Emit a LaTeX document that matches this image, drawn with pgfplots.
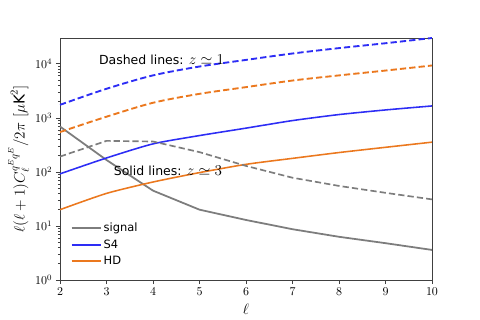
\RequirePackage{fix-cm}
\documentclass[border=0pt]{standalone}
\usepackage[no-math]{fontspec}
\setmainfont{DejaVu Sans}
\usepackage{amsmath}
\usepackage{pgfplots}
\pgfplotsset{compat=1.18}

\definecolor{cblue}{RGB}{45,45,245}
\definecolor{corange}{RGB}{235,120,30}
\definecolor{cgray}{RGB}{125,125,125}

\begin{document}
\begin{tikzpicture}
\begin{axis}[
  at={(0,0)}, anchor=south west,
  scale only axis,
  width=357.12pt, height=232.32pt,
  ymode=log,
  xmin=2, xmax=10, ymin=1, ymax=3e4,
  xtick={2,3,4,5,6,7,8,9,10},
  ytick={1,10,100,1000,10000},
  tick align=outside,
  xtick pos=left, ytick pos=left,
  major tick length=4pt, minor tick length=2pt,
  axis line style={draw=black!75, line width=0.8pt},
  every tick/.style={black!75, line width=0.6pt},
  tick label style={font=\fontsize{11.5}{13}\selectfont},
  xlabel={$\ell$},
  ylabel={$\ell(\ell+1)C_\ell^{q^Eq^E}/2\pi\ [\mu\mbox{K}^2]$},
  label style={font=\fontsize{14.5}{17}\selectfont},
  xlabel style={yshift=-1pt},
  ylabel style={yshift=-1pt},
  legend style={at={(0.02,0.04)}, anchor=south west, draw=none, fill=none,
    font=\fontsize{11}{13}\selectfont, row sep=2pt},
  legend cell align=left,
  legend image code/.code={\draw[#1, line width=1.6pt] (0pt,0pt) -- (28pt,0pt);},
]
\addplot[cgray, line width=1.7pt] coordinates {
  (2,690)(3,166)(4,45)(5,20)(6,12.9)(7,8.7)(8,6.3)(9,4.8)(10,3.6)};
\addlegendentry{signal}
\addplot[cblue, line width=1.5pt, smooth, tension=0.4] coordinates {
  (2,92)(3,181)(4,330)(5,470)(6,645)(7,890)(8,1150)(9,1400)(10,1660)};
\addlegendentry{S4}
\addplot[corange, line width=1.5pt, smooth, tension=0.4] coordinates {
  (2,20)(3,40)(4,65)(5,97)(6,138)(7,178)(8,228)(9,285)(10,355)};
\addlegendentry{HD}
\addplot[cgray, line width=1.6pt, dash pattern=on 6pt off 3pt, forget plot] coordinates {
  (2,192)(3,375)(4,365)(5,232)(6,129)(7,78)(8,55)(9,41)(10,31)};
\addplot[cblue, line width=1.8pt, dash pattern=on 6pt off 3pt, smooth, tension=0.5, forget plot] coordinates {
  (2,1740)(3,3450)(4,6100)(5,8900)(6,11800)(7,15500)(8,19500)(9,24000)(10,30000)};
\addplot[corange, line width=1.8pt, dash pattern=on 6pt off 3pt, smooth, tension=0.5, forget plot] coordinates {
  (2,545)(3,1050)(4,1900)(5,2780)(6,3700)(7,4900)(8,6100)(9,7500)(10,9300)};
\node[anchor=west, font=\fontsize{12}{15}\selectfont] at (rel axis cs:0.095,0.91) {Dashed lines: {\fontsize{14.5}{15}\selectfont$z\simeq 1$}};
\node[anchor=west, font=\fontsize{12}{15}\selectfont] at (rel axis cs:0.135,0.45) {Solid lines: {\fontsize{14.5}{15}\selectfont$z\simeq 3$}};
\end{axis}
\path[use as bounding box] (-57.6pt,-38.4pt) rectangle (403.2pt,268.8pt);
\end{tikzpicture}
\end{document}
